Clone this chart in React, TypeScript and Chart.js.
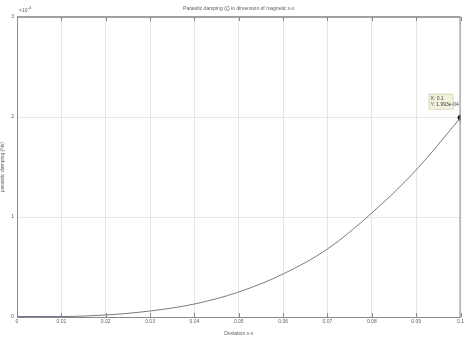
import React, { useEffect, useRef } from "react";
import { Chart, registerables } from "chart.js";

Chart.register(...registerables);

const titleText = "Parasitic damping (ζ) in dimension of magnetic x-x";
const xLabel = "Deviation x-x";
const yLabel = "parasitic damping (Ns)";
const exponentText = "×10";
const exponentPower = "-4";
const tipLines = ["X: 0.1", "Y: 1.993e-04"];

// deviation values
const xValues = [0, 0.01, 0.02, 0.03, 0.04, 0.05, 0.06, 0.07, 0.08, 0.09, 0.1];
// damping in units of 1e-4 Ns
const yValues = [0, 0.003, 0.02, 0.06, 0.13, 0.25, 0.43, 0.68, 1.04, 1.47, 1.993];
// blue initial segment
const blueX = [0, 0.012];
const blueY = [0, 0];
const tipPoint = { x: 0.1, y: 1.993 };

const xTicks = [0, 0.01, 0.02, 0.03, 0.04, 0.05, 0.06, 0.07, 0.08, 0.09, 0.1];

export default function App() {
  const ref = useRef<HTMLCanvasElement>(null);
  useEffect(() => {
    const canvas = ref.current!;
    const textColor = "#606060";
    const font = "Liberation Sans, Arial, sans-serif";
    const decor = {
      id: "decor",
      afterDraw(chart: any) {
        const { ctx, chartArea: a, scales } = chart;
        ctx.save();
        // box
        ctx.strokeStyle = "#8a8a8a";
        ctx.lineWidth = 1;
        ctx.strokeRect(a.left + 0.5, a.top + 0.5, a.right - a.left - 1, a.bottom - a.top);
        ctx.strokeStyle = "#a0a0a0";
        ctx.lineWidth = 2;
        ctx.beginPath();
        ctx.moveTo(a.left, a.top);
        ctx.lineTo(a.right, a.top);
        ctx.stroke();
        ctx.lineWidth = 1;
        // inward ticks
        ctx.strokeStyle = "#888";
        xTicks.forEach((t) => {
          const px = Math.round(scales.x.getPixelForValue(t)) + 0.5;
          ctx.beginPath();
          ctx.moveTo(px, a.bottom);
          ctx.lineTo(px, a.bottom - 4);
          ctx.moveTo(px, a.top);
          ctx.lineTo(px, a.top + 4);
          ctx.stroke();
        });
        // title
        ctx.fillStyle = textColor;
        ctx.font = `5px ${font}`;
        ctx.textAlign = "center";
        ctx.textBaseline = "middle";
        ctx.fillText(titleText, (a.left + a.right) / 2, 9);
        // exponent
        ctx.textAlign = "left";
        ctx.fillText(exponentText, 19, 11);
        ctx.font = `4px ${font}`;
        ctx.fillText(exponentPower, 28, 8);
        // datatip
        const px = scales.x.getPixelForValue(tipPoint.x);
        const py = scales.y.getPixelForValue(tipPoint.y);
        const bx = px - 32;
        const by = py - 24;
        ctx.fillStyle = "#f4f2dc";
        ctx.strokeStyle = "#d8d6c0";
        ctx.fillRect(bx, by, 24, 15);
        ctx.strokeRect(bx + 0.5, by + 0.5, 24, 15);
        ctx.fillStyle = "#444";
        ctx.font = `5px ${font}`;
        ctx.fillText(tipLines[0], bx + 2, by + 4.5);
        ctx.fillText(tipLines[1], bx + 2, by + 10.5);
        ctx.restore();
      },
    };
    const chart = new Chart(canvas, {
      type: "line",
      data: {
        datasets: [
          {
            data: xValues.map((x, i) => ({ x, y: yValues[i] })),
            borderColor: "#7a7a7a",
            borderWidth: 1,
            pointRadius: 0,
            cubicInterpolationMode: "monotone",
          },
          {
            data: blueX.map((x, i) => ({ x, y: blueY[i] })),
            borderColor: "#6262c6",
            borderWidth: 2,
            pointRadius: 0,
          },
          {
            data: [tipPoint],
            borderColor: "#111",
            backgroundColor: "#111",
            pointRadius: 2.5,
            showLine: false,
          },
        ],
      },
      options: {
        responsive: false,
        animation: false,
        events: [],
        layout: { padding: { top: 17, right: 2, left: 0, bottom: 0 } },
        plugins: { legend: { display: false }, tooltip: { enabled: false }, title: { display: false } },
        scales: {
          x: {
            type: "linear",
            min: 0,
            max: 0.1,
            afterBuildTicks: (s: any) => {
              s.ticks = xTicks.map((v) => ({ value: v }));
            },
            afterFit: (s: any) => {
              s.height = 20;
            },
            ticks: {
              autoSkip: false,
              maxRotation: 0,
              padding: 2,
              color: textColor,
              font: { size: 5, family: font },
              callback: (v: any) => String(Number(Number(v).toFixed(2))),
            },
            grid: { color: "#e6e6e6", tickLength: 0, drawTicks: false },
            border: { display: true, color: "#8a8a8a" },
            title: {
              display: true,
              text: xLabel,
              color: textColor,
              font: { size: 5, family: font },
              padding: { top: 1, bottom: 0 },
            },
          },
          y: {
            min: 0,
            max: 3,
            ticks: {
              stepSize: 1,
              padding: 3,
              color: textColor,
              font: { size: 5, family: font },
            },
            afterFit: (s: any) => {
              s.width = 17;
            },
            grid: { color: "#e6e6e6", tickLength: 0, drawTicks: false },
            border: { display: true, color: "#8a8a8a" },
            title: {
              display: true,
              text: yLabel,
              color: textColor,
              font: { size: 5, family: font },
              padding: 0,
            },
          },
        },
      },
      plugins: [decor],
    } as any);
    return () => chart.destroy();
  }, []);
  return (
    <div style={{ position: "fixed", left: 0, top: 0, width: 466, height: 337, background: "#fff" }}>
      <canvas ref={ref} width={466} height={337} style={{ display: "block" }} />
    </div>
  );
}
